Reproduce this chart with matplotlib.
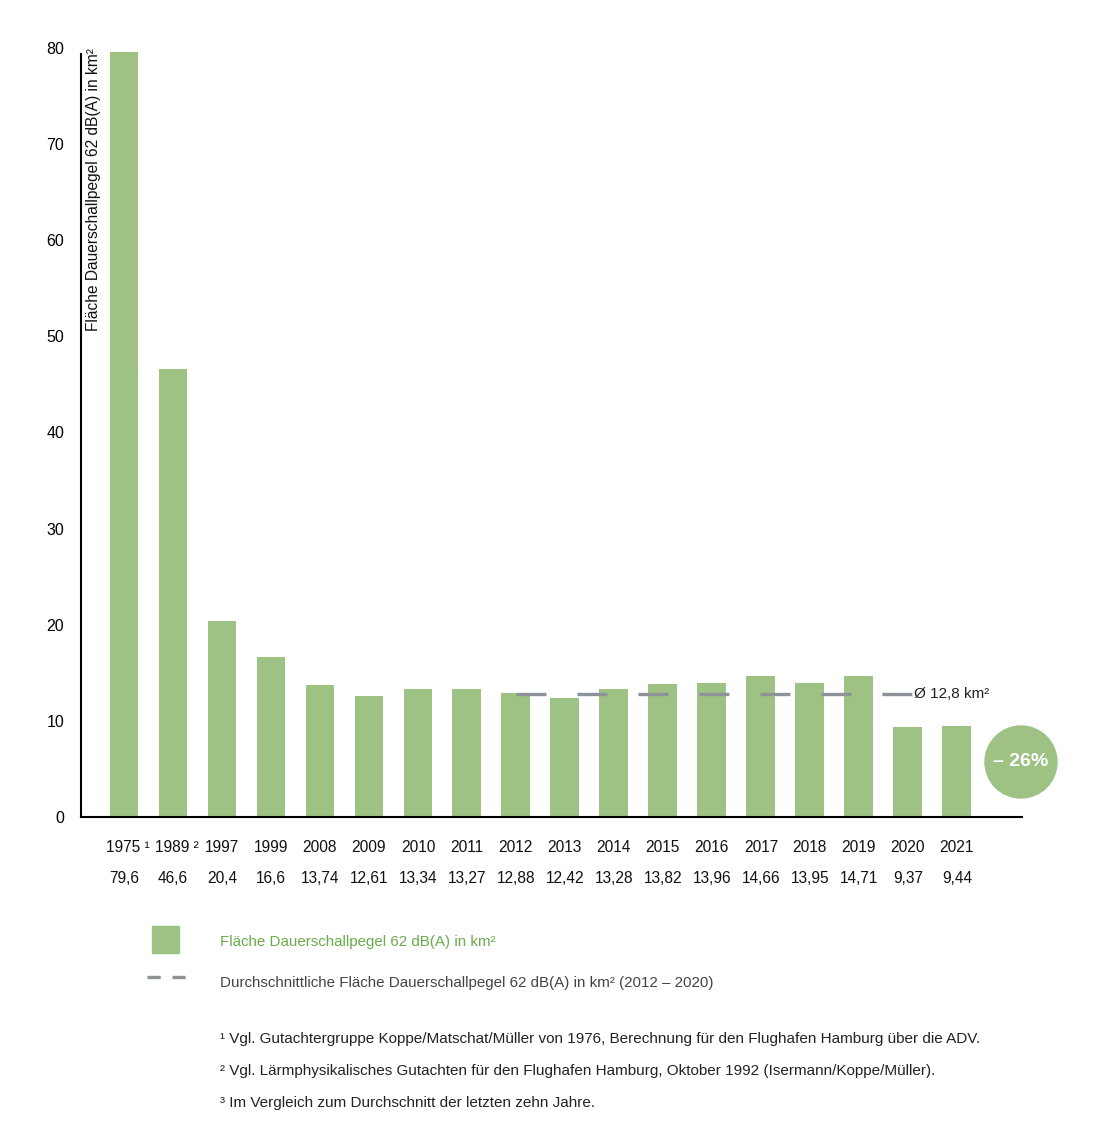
import matplotlib
matplotlib.use("Agg")
import matplotlib.pyplot as plt
from matplotlib.patches import Ellipse, Rectangle
from matplotlib.lines import Line2D
import numpy as np

plt.rcParams['font.family'] = ['Liberation Sans', 'DejaVu Sans']
plt.rcParams['lines.scale_dashes'] = False

years = ["1975", "1989", "1997", "1999", "2008", "2009", "2010", "2011", "2012",
         "2013", "2014", "2015", "2016", "2017", "2018", "2019", "2020", "2021"]
year_marks = ["¹", "²", "", "", "", "", "", "", "", "", "", "", "", "", "", "", "", ""]
values = [79.6, 46.6, 20.4, 16.6, 13.74, 12.61, 13.34, 13.27, 12.88,
          12.42, 13.28, 13.82, 13.96, 14.66, 13.95, 14.71, 9.37, 9.44]
avg_value = 12.8
avg_start, avg_end = "2012", "2020"
yticks = [0, 10, 20, 30, 40, 50, 60, 70, 80]
change_label = "– 26%"

GREEN = "#9dc284"
GREEN_TXT = "#6aab4a"
GRAY = "#8e9398"

fig = plt.figure(figsize=(11, 11.4), dpi=100)
ax = fig.add_axes([81/1100, 1-817/1140, (1022-81)/1100, (817-48)/1140])

x = np.arange(len(years))
ax.bar(x, values, width=0.59, color=GREEN, zorder=2)

# average dashed line
i0 = years.index(avg_start)
i1 = years.index(avg_end)
ax.plot([i0, i1 + 0.08], [avg_value, avg_value], color=GRAY, lw=2.4,
        dashes=(21.6, 22.3), solid_capstyle='butt', dash_capstyle='butt', zorder=3)
ax.text(i1 + 0.13, avg_value, "Ø 12,8 km²", va='center', ha='left', fontsize=11, color='#222222')

ax.set_xlim(-0.878, 18.33)
ax.set_ylim(0, 80)
ax.set_yticks(yticks)
ax.set_yticklabels([str(t) for t in yticks], fontsize=11.5)
ax.tick_params(axis='y', length=0, pad=12)
ax.set_xticks([])
for s in ['top', 'right']:
    ax.spines[s].set_visible(False)
ax.spines['left'].set_bounds(0, 79.4)
ax.spines['left'].set_linewidth(1.5)
ax.spines['bottom'].set_linewidth(1.5)

ax.text(-0.62, 80.0, "Fläche Dauerschallpegel 62 dB(A) in km²", rotation=90,
        va='top', ha='center', fontsize=11.2, color='#111111')

# labels under axis
trans = ax.get_xaxis_transform()
for i, (yr, mk, v) in enumerate(zip(years, year_marks, values)):
    lab = yr + (" " + mk if mk else "")
    ax.text(i + (0.08 if mk else 0), -0.04, lab, transform=trans, ha='center', va='center',
            fontsize=11.2, color='#111111')
    ax.text(i, -0.0805, ("%g" % v).replace('.', ','), transform=trans, ha='center',
            va='center', fontsize=11.2, color='#111111')

# circle
fig.patches.append(Ellipse((1021/1100, 1-762/1140), 72/1100, 72/1140,
                           transform=fig.transFigure, color=GREEN, zorder=5))
fig.text(1021/1100, 1-762/1140, change_label, ha='center', va='center',
         fontsize=14, fontweight='bold', color='white', zorder=6)

# legend
fig.patches.append(Rectangle((152/1100, 1-953/1140), 27/1100, 27/1140,
                             transform=fig.transFigure, color=GREEN))
fig.text(220/1100, 1-942/1140, "Fläche Dauerschallpegel 62 dB(A) in km²",
         ha='left', va='center', fontsize=10.9, color=GREEN_TXT)
fig.lines.append(Line2D([147/1100, 186/1100], [1-977/1140, 1-977/1140],
                        transform=fig.transFigure, color=GRAY, lw=2.4,
                        dashes=(9.5, 8.5), dash_capstyle='butt'))
fig.text(220/1100, 1-983/1140,
         "Durchschnittliche Fläche Dauerschallpegel 62 dB(A) in km² (2012 – 2020)",
         ha='left', va='center', fontsize=10.9, color='#444444')

notes = ["¹ Vgl. Gutachtergruppe Koppe/Matschat/Müller von 1976, Berechnung für den Flughafen Hamburg über die ADV.",
         "² Vgl. Lärmphysikalisches Gutachten für den Flughafen Hamburg, Oktober 1992 (Isermann/Koppe/Müller).",
         "³ Im Vergleich zum Durchschnitt der letzten zehn Jahre."]
for k, n in enumerate(notes):
    fig.text(220/1100, 1-(1039 + 32*k)/1140, n, ha='left', va='center',
             fontsize=11, color='#222222')

fig.savefig("out.png", dpi=100, facecolor='white')
